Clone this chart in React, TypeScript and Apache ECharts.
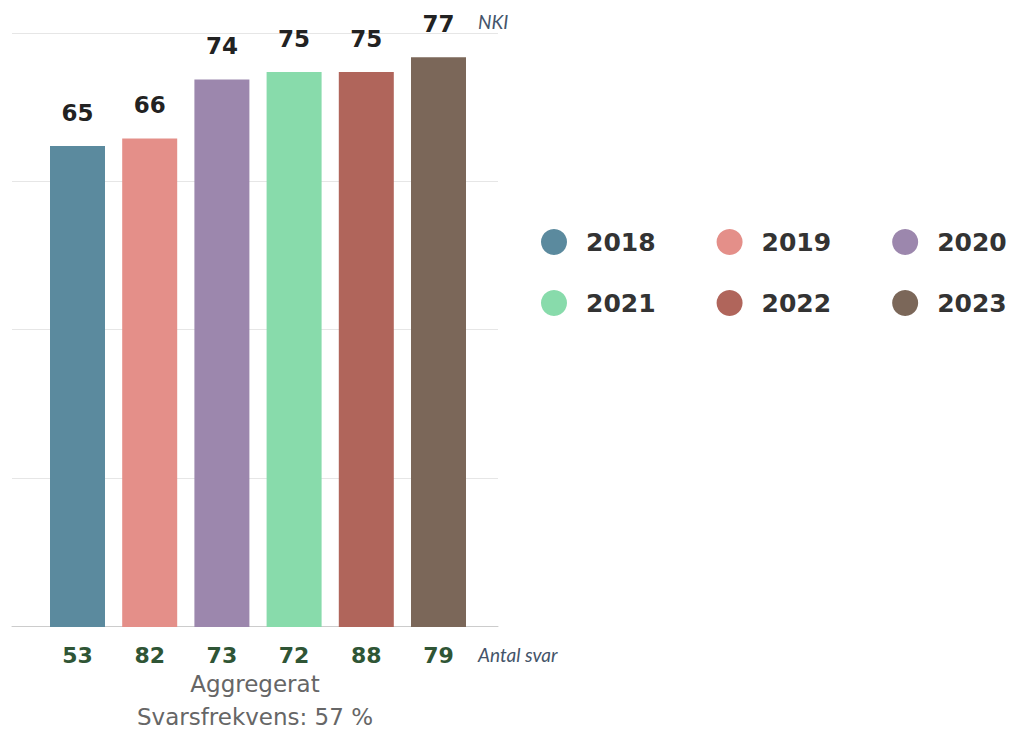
import React, { useEffect, useRef } from "react";
import * as echarts from "echarts";

const years = ["2018", "2019", "2020", "2021", "2022", "2023"];
const nki = [65, 66, 74, 75, 75, 77];
const antalSvar = [53, 82, 73, 72, 88, 79];
const colors = ["#5b8a9e", "#e48f89", "#9c87ad", "#88dbab", "#b0655b", "#7b6759"];
const groupLabel = "Aggregerat\nSvarsfrekvens: 57 %";
const yTicks = { min: 0, max: 80, interval: 20 };

export default function App() {
  const ref = useRef<HTMLDivElement>(null);
  useEffect(() => {
    if (!ref.current) return;
    const chart = echarts.init(ref.current, undefined, { renderer: "svg" });
    const legendBase = {
      left: 536,
      orient: "horizontal",
      icon: "circle",
      itemWidth: 54,
      itemHeight: 26,
      itemGap: 61,
      textStyle: { fontSize: 25, fontWeight: "bold", color: "#333", fontFamily: "DejaVu Sans" },
    };
    chart.setOption({
      animation: false,
      textStyle: { fontFamily: "DejaVu Sans" },
      legend: [
        { ...legendBase, top: 224, data: years.slice(0, 3) },
        { ...legendBase, top: 285, data: years.slice(3, 6) },
      ],
      grid: [
        { left: 12, right: 1030 - 498, top: 33, bottom: 733 - 630.7 },
        { left: 41.4, right: 1030 - 474.6, top: 35, bottom: 106 },
      ],
      xAxis: [
        {
          type: "category",
          gridIndex: 0,
          data: [groupLabel],
          axisTick: { show: false },
          axisLine: { lineStyle: { color: "#cccccc", width: 1 } },
          axisLabel: { margin: 41, fontSize: 23, lineHeight: 33, color: "#666" },
        },
        {
          type: "category",
          gridIndex: 1,
          data: years,
          axisTick: { show: false },
          axisLine: { show: false },
          axisLabel: {
            margin: 17,
            fontSize: 22,
            fontWeight: "bold",
            color: "#2f5535",
            formatter: (_v: string, i: number) => String(antalSvar[i]),
          },
        },
      ],
      yAxis: [
        {
          type: "value",
          gridIndex: 0,
          ...yTicks,
          axisLabel: { show: false },
          axisLine: { show: false },
          axisTick: { show: false },
          splitLine: { lineStyle: { color: "#e6e6e6" } },
        },
        { type: "value", gridIndex: 1, ...yTicks, show: false, splitLine: { show: false } },
      ],
      series: years.map((y, i) => ({
        name: y,
        type: "bar",
        xAxisIndex: 1,
        yAxisIndex: 1,
        stack: "all",
        barWidth: 55,
        itemStyle: { color: colors[i] },
        label: {
          show: true,
          position: "top",
          distance: 22,
          fontSize: 23,
          fontWeight: "bold",
          color: "#222",
          formatter: (p: any) => String(Math.round(p.value)),
        },
        data: years.map((_, j) => (j === i ? nki[i] : "-")),
      })),
      graphic: [
        {
          type: "text",
          left: 478,
          top: 12,
          style: { text: "NKI", font: "italic 19px Lato", fill: "#44546a" },
        },
        {
          type: "text",
          left: 478,
          top: 645,
          style: { text: "Antal svar", font: "italic 19px Lato", fill: "#44546a" },
        },
      ],
    });
    return () => chart.dispose();
  }, []);
  return (
    <div
      ref={ref}
      style={{ position: "absolute", left: 0, top: 0, width: 1030, height: 733, background: "#fff" }}
    />
  );
}
